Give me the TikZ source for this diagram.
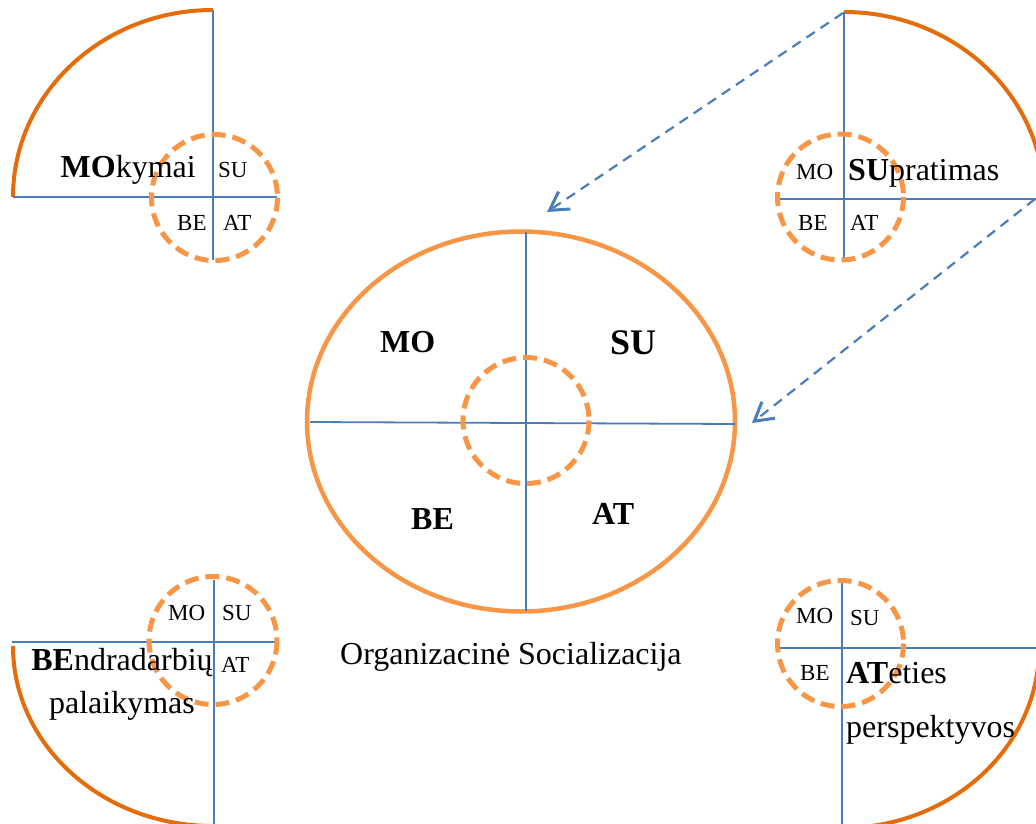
\documentclass[tikz,border=0pt]{standalone}
\usepackage{fontspec}
\setmainfont{Liberation Serif}
\usetikzlibrary{arrows.meta}
\definecolor{ora}{HTML}{F79646}
\definecolor{oradark}{HTML}{E46C0A}
\definecolor{lineblue}{HTML}{4A7EBB}
\begin{document}
\begin{tikzpicture}[x=1pt,y=-1pt,
  axisline/.style={draw=lineblue, line width=1.8pt},
  arcline/.style={draw=oradark, line width=4pt},
  dcirc/.style={draw=ora, line width=5pt, dash pattern=on 14pt off 7pt},
  bigtxt/.style={font=\fontsize{32}{38}\selectfont, inner sep=0pt, anchor=base west},
  smalltxt/.style={font=\fontsize{23}{27}\selectfont, inner sep=0pt, anchor=base west},
  arr/.style={draw=lineblue, line width=2.2pt, dash pattern=on 10pt off 7pt,
    -{Straight Barb[length=18pt,width=21pt,line width=3pt]}}]
\useasboundingbox (0,0) rectangle (1036,824);
\clip (0,0) rectangle (1036,824);

% ---------- centre ----------
\draw[draw=ora, line width=4.5pt] (521,421.5) ellipse [x radius=214, y radius=190];
\coordinate (cT) at (526,232);
\coordinate (cB) at (526,611);
\coordinate (cL) at (310,422);
\coordinate (cR) at (735,424);
\draw[axisline] (cT) -- (cB);
\draw[axisline] (cL) -- (cR);
\draw[dcirc] (526,420.5) circle [radius=63];
\node[bigtxt] (cMO) at (380,352) {\textbf{MO}};
\node[bigtxt, font=\fontsize{36}{42}\selectfont] (cSU) at (610,354) {\textbf{SU}};
\node[bigtxt] (cBE) at (411,529) {\textbf{BE}};
\node[bigtxt] (cAT) at (592,524) {\textbf{AT}};
\node[bigtxt] (title) at (340,664) {Organizacinė Socializacija};

% ---------- top left ----------
\draw[arcline] (13,197) arc[start angle=180, end angle=270, x radius=200, y radius=187];
\coordinate (tlT) at (213,10);
\coordinate (tlB) at (213,260);
\coordinate (tlL) at (13,197);
\coordinate (tlR) at (277,197);
\draw[axisline] (tlT) -- (tlB);
\draw[axisline] (tlL) -- (tlR);
\draw[dcirc] (214.5,197.5) circle [radius=63];
\node[bigtxt, anchor=base east] (tlMain) at (196,178) {\textbf{MO}kymai};
\node[smalltxt] (tlSU) at (218,178) {SU};
\node[smalltxt] (tlBE) at (177,230) {BE};
\node[smalltxt] (tlAT) at (223,230) {AT};

% ---------- top right ----------
\draw[arcline] (844,12) arc[start angle=270, end angle=360, x radius=200, y radius=187];
\coordinate (trT) at (844,12);
\coordinate (trB) at (844,260);
\coordinate (trL) at (778,199);
\coordinate (trR) at (1036,199);
\draw[axisline] (trT) -- (trB);
\draw[axisline] (trL) -- (trR);
\draw[dcirc] (840.5,197) circle [radius=63];
\node[smalltxt] (trMO) at (796,179) {MO};
\node[bigtxt] (trMain) at (848,180) {\textbf{SU}pratimas};
\node[smalltxt] (trBE) at (798,230) {BE};
\node[smalltxt] (trAT) at (850,230) {AT};

% ---------- bottom left ----------
\draw[arcline] (13,646) arc[start angle=180, end angle=90, x radius=200, y radius=180];
\coordinate (blT) at (214,580);
\coordinate (blB) at (214,824);
\coordinate (blL) at (12,642);
\coordinate (blR) at (277,642);
\draw[axisline] (blT) -- (blB);
\draw[axisline] (blL) -- (blR);
\draw[dcirc] (213,640.5) circle [radius=64];
\node[smalltxt] (blMO) at (168,620) {MO};
\node[smalltxt] (blSU) at (222,620) {SU};
\node[smalltxt] (blAT) at (221,672) {AT};
\node[bigtxt, anchor=base] (blMain) at (122,670) {\textbf{BE}ndradarbių};
\node[bigtxt, anchor=base] (blMain2) at (122,713) {palaikymas};

% ---------- bottom right ----------
\draw[arcline] (1039,648) arc[start angle=0, end angle=90, x radius=197, y radius=180];
\coordinate (brT) at (842,580);
\coordinate (brB) at (842,824);
\coordinate (brL) at (778,648);
\coordinate (brR) at (1036,648);
\draw[axisline] (brT) -- (brB);
\draw[axisline] (brL) -- (brR);
\draw[dcirc] (840.5,643.5) circle [radius=63];
\node[smalltxt] (brMO) at (796,623) {MO};
\node[smalltxt] (brSU) at (850,625) {SU};
\node[smalltxt] (brBE) at (800,680) {BE};
\node[bigtxt] (brMain) at (846,683) {\textbf{AT}eties};
\node[bigtxt] (brMain2) at (846,737) {perspektyvos};

% ---------- dashed arrows ----------
\coordinate (a1s) at (843,13);
\coordinate (a1e) at (547,212);
\coordinate (a2s) at (1035,199);
\coordinate (a2e) at (752,423);
\draw[arr] (a1s) -- (a1e);
\draw[arr] (a2s) -- (a2e);
\end{tikzpicture}
\end{document}
